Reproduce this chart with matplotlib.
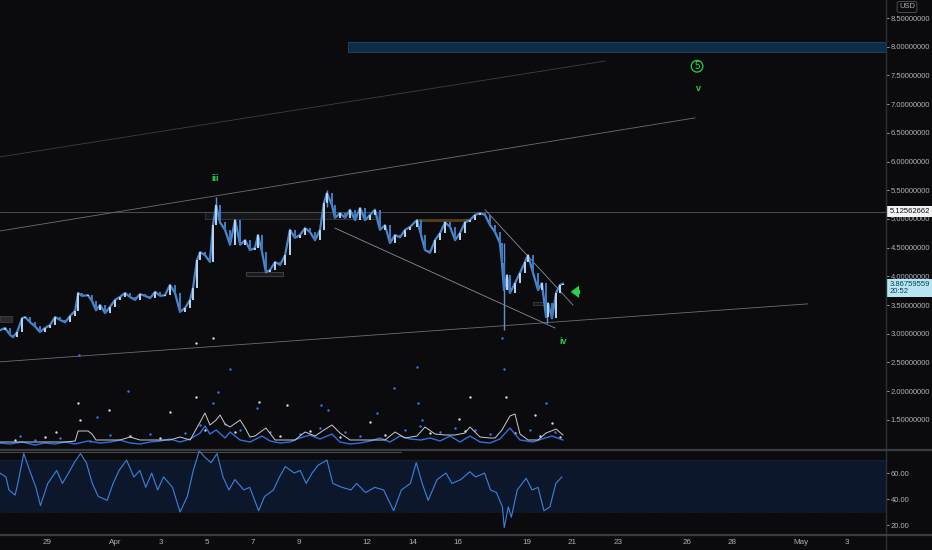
import numpy as np
import matplotlib
matplotlib.use("Agg")
import matplotlib.pyplot as plt
from matplotlib.patches import Rectangle

plt.rcParams['font.family'] = ['Liberation Sans', 'DejaVu Sans']

# time axis is in days counted from 29 Mar 00:00
price_days = [-2.06, -1.84, -1.62, -1.49, -1.31, -1.09, -0.96, -0.74, -0.53, -0.31, -0.09, 0.13, 0.35, 0.57,
              0.79, 1.01, 1.23, 1.36, 1.53, 1.79, 1.97, 2.14, 2.32, 2.54, 2.76, 2.98, 3.19, 3.41, 3.63, 3.85,
              4.07, 4.29, 4.51, 4.73, 4.95, 5.16, 5.38, 5.60, 5.82, 6.04, 6.26, 6.39, 6.56, 6.70, 6.91, 7.13,
              7.26, 7.40, 7.57, 7.79, 8.01, 8.23, 8.45, 8.67, 8.88, 9.10, 9.23, 9.41, 9.58, 9.76, 9.98, 10.20,
              10.42, 10.63, 10.85, 11.07, 11.29, 11.51, 11.73, 11.95, 12.12, 12.25, 12.47, 12.60, 12.82, 13.04,
              13.26, 13.48, 13.70, 13.92, 14.14, 14.35, 14.57, 14.79, 15.01, 15.23, 15.45, 15.67, 15.89, 16.19,
              16.37, 16.54, 16.76, 16.98, 17.20, 17.42, 17.64, 17.86, 18.07, 18.29, 18.51, 18.73, 18.95, 19.17,
              19.39, 19.61, 19.82, 19.91, 20.00, 20.13, 20.26, 20.48, 20.70, 20.92, 21.05, 21.27, 21.49, 21.66,
              21.84, 21.93, 22.10, 22.28, 22.45, 22.58]
price_close = [3.06, 3.10, 2.98, 2.94, 3.03, 3.27, 3.29, 3.20, 3.13, 3.03, 3.10, 3.15, 3.29, 3.24, 3.20, 3.31,
               3.40, 3.71, 3.66, 3.67, 3.57, 3.41, 3.50, 3.36, 3.47, 3.59, 3.64, 3.71, 3.64, 3.59, 3.69, 3.66,
               3.62, 3.73, 3.66, 3.67, 3.85, 3.71, 3.38, 3.45, 3.59, 3.80, 4.28, 4.42, 4.37, 4.25, 4.89, 5.24,
               4.94, 4.81, 4.55, 4.98, 4.55, 4.63, 4.46, 4.49, 4.72, 4.42, 4.07, 4.11, 4.25, 4.20, 4.37, 4.81,
               4.67, 4.72, 4.84, 4.77, 4.63, 4.81, 5.28, 5.45, 5.24, 5.02, 5.10, 5.02, 5.16, 4.98, 5.19, 4.98,
               5.07, 5.16, 4.81, 4.89, 4.58, 4.72, 4.68, 4.81, 4.86, 4.98, 4.72, 4.46, 4.41, 4.63, 4.75, 4.94,
               4.86, 4.63, 4.75, 4.94, 4.98, 5.07, 5.10, 5.07, 4.89, 4.77, 4.58, 4.23, 3.76, 4.02, 3.71, 3.88,
               4.06, 4.25, 4.37, 4.06, 3.76, 3.88, 3.29, 3.53, 3.27, 3.71, 3.85, 3.87]

# a few long wicks that stick out of the candle bodies
wick_days = [7.40, 12.25, 20.00, 21.90]
wick_low = [5.00, 5.20, 3.06, 3.19]
wick_high = [5.38, 5.50, 4.58, 3.53]

# volume-style overlay at the bottom of the price pane (arbitrary units)
ind_white_days = [-2.06, -1.62, -1.09, -0.53, -0.09, 0.35, 0.79, 1.23, 1.36, 1.79, 1.97, 2.14, 2.32, 2.76, 3.19,
                  3.63, 4.07, 4.51, 4.95, 5.38, 5.82, 6.26, 6.70, 6.91, 7.13, 7.40, 7.57, 7.79, 8.01, 8.45,
                  8.67, 8.88, 9.10, 9.58, 9.98, 10.42, 10.85, 11.29, 11.73, 12.12, 12.47, 12.82, 13.26, 13.92,
                  14.35, 14.79, 15.23, 15.67, 16.19, 16.54, 16.98, 17.42, 17.86, 18.29, 18.51, 18.95, 19.39,
                  19.61, 19.91, 20.26, 20.48, 20.70, 21.05, 21.49, 21.84, 22.28, 22.58]
ind_white = [6, 6, 6, 6, 6, 6, 6, 7, 17, 17, 14, 8, 8, 8, 8, 11, 8, 8, 8, 8, 11, 8, 26, 35, 23, 28, 33, 24, 21,
             28, 20, 11, 12, 20, 8, 8, 8, 16, 12, 18, 23, 15, 8, 8, 8, 8, 16, 10, 12, 21, 14, 13, 13, 15, 21,
             11, 10, 10, 18, 32, 34, 14, 8, 8, 15, 19, 13]
ind_blue_days = [-2.06, -1.62, -1.09, -0.53, -0.09, 0.35, 0.79, 1.23, 1.79, 2.32, 2.76, 3.19, 3.63, 4.07, 4.51,
                 4.95, 5.38, 5.82, 6.26, 6.70, 6.91, 7.13, 7.40, 7.79, 8.01, 8.45, 8.88, 9.41, 9.76, 10.20,
                 10.63, 11.07, 11.51, 11.95, 12.47, 12.82, 13.26, 13.70, 14.14, 14.57, 15.01, 15.45, 15.89,
                 16.37, 16.76, 17.20, 17.64, 18.07, 18.51, 18.95, 19.39, 19.82, 20.26, 20.70, 21.27, 21.66,
                 22.10, 22.58]
ind_blue = [5, 4, 6, 3, 5, 4, 6, 4, 7, 5, 6, 8, 5, 4, 6, 7, 9, 6, 9, 15, 22, 14, 18, 10, 16, 8, 6, 12, 7, 5, 6,
            10, 13, 9, 14, 6, 4, 5, 7, 10, 6, 12, 9, 8, 10, 7, 12, 6, 12, 6, 5, 9, 20, 8, 6, 9, 12, 8]
dots_blue_days = [3.54, 8.01, 16.19, 20.00, 15.19, 7.48, 16.24, 21.84, 11.99, 12.30, 14.44, 9.19, 7.26, 2.19,
                  16.41, 19.91, 1.40, -1.18, 0.57, 2.76, 4.51, 6.04, 8.45, 9.76, 11.07, 13.04, 13.70, 15.67,
                  17.20, 17.86, 18.73, 19.39, 21.14, 22.23, -0.53, 1.88, 6.70, 7.79, 11.95, 16.32]
dots_blue = [57, 79, 81, 79, 60, 56, 45, 45, 43, 38, 35, 40, 45, 31, 28, 110, 93, 12, 10, 13, 14, 15, 18, 16,
             14, 16, 12, 18, 16, 20, 18, 14, 18, 16, 8, 7, 23, 24, 20, 22]
dots_white_days = [18.51, 20.09, 1.36, 2.71, 6.52, 9.28, 10.50, 14.14, 18.03, 21.36, 22.10, 5.38, 1.44, 0.39,
                   6.52, 7.26, -1.40, -0.09, 3.63, 4.95, 6.91, 8.23, 10.20, 11.51, 12.82, 14.79, 16.76, 18.29,
                   20.48, 21.58, 22.45]
dots_white = [51, 51, 45, 38, 51, 46, 43, 26, 29, 33, 25, 36, 28, 16, 105, 110, 8, 11, 12, 10, 18, 16, 12, 17,
              11, 13, 15, 17, 15, 12, 11]

rsi_days = [-2.06, -1.80, -1.67, -1.40, -1.28, -1.02, -0.76, -0.49, -0.29, 0.03, 0.42, 0.67, 0.94, 1.19, 1.46,
            1.72, 1.98, 2.24, 2.63, 2.89, 3.15, 3.48, 3.80, 4.06, 4.32, 4.58, 4.84, 5.10, 5.49, 5.82, 6.14,
            6.40, 6.66, 6.92, 7.18, 7.44, 7.70, 7.96, 8.22, 8.61, 8.87, 9.26, 9.52, 9.91, 10.17, 10.43, 10.82,
            11.08, 11.34, 11.60, 11.86, 12.25, 12.51, 12.91, 13.30, 13.55, 13.94, 14.34, 14.73, 15.17, 15.51,
            15.90, 16.16, 16.42, 16.68, 17.07, 17.46, 17.72, 18.11, 18.50, 18.76, 19.15, 19.41, 19.67, 19.93,
            20.01, 20.19, 20.32, 20.58, 20.97, 21.23, 21.49, 21.75, 22.01, 22.27, 22.53]
rsi_vals = [60, 57, 47, 43, 52, 75, 62, 49, 35, 52, 62, 52, 60, 68, 75, 68, 52, 42, 39, 52, 62, 70, 57, 62, 49,
            60, 47, 57, 49, 30, 42, 62, 77, 72, 68, 75, 57, 47, 55, 47, 49, 31, 42, 47, 57, 65, 60, 62, 52, 60,
            66, 70, 52, 49, 47, 52, 45, 49, 47, 31, 47, 52, 68, 52, 39, 55, 60, 52, 55, 61, 57, 60, 47, 45, 34,
            18, 34, 26, 47, 56, 47, 49, 31, 34, 52, 57]

tick_days = [0, 3, 5, 7, 9, 11, 14, 16, 18, 21, 23, 25, 28, 30, 33, 35]
tick_labels = ['29', 'Apr', '3', '5', '7', '9', '12', '14', '16', '19', '21', '23', '26', '28', 'May', '3']

last_price = 3.86759559
level_price = 5.12562662

BG = '#0b0b0e'
AXC = '#aeb1b9'
SEP = '#2e3038'
GREEN = '#2bd14b'
W, H = 932.0, 550.0
XL = (-2.06, 36.72)
FS = 5.5

fig = plt.figure(figsize=(9.32, 5.5), dpi=100)
fig.patch.set_facecolor(BG)
axw = 886 / W
ax = fig.add_axes([0, 1 - 450 / H, axw, 450 / H])
ax_rsi = fig.add_axes([0, 15 / H, axw, 84 / H])
ax_ind = fig.add_axes([0, 1 - 448 / H, axw, 112 / H])

for a in (ax, ax_rsi, ax_ind):
    a.set_facecolor(BG)
    a.set_xlim(*XL)
    for s in a.spines.values():
        s.set_visible(False)
ax_ind.set_facecolor('none')
ax_ind.set_ylim(0, 112)
ax_ind.set_xticks([])
ax_ind.set_yticks([])

# ---- price pane
ax.set_ylim(0.974, 8.814)
ax.yaxis.tick_right()
yt = np.arange(1.5, 8.51, 0.5)
ax.set_yticks(yt)
ax.set_yticklabels([f'{v:.8f}' for v in yt])
ax.tick_params(axis='y', colors=AXC, labelsize=FS, length=2, width=0.6, pad=1.5)
ax.set_xticks([])

# target zone
ax.add_patch(Rectangle((13.17, 7.91), XL[1] - 13.17, 0.17, facecolor='#0f2c47', edgecolor='#1d4a70', lw=0.6))
# horizontal level
ax.axhline(level_price, color='#4a4c55', lw=0.7)

# trend lines
ax.plot([-2.06, 24.42], [6.08, 7.75], color='#3c3e45', lw=0.6)
ax.plot([-2.06, 28.36], [4.79, 6.76], color='#6b6e77', lw=0.6)
ax.plot([-2.06, 33.30], [2.51, 3.52], color='#6b6e77', lw=0.6)
ax.plot([12.60, 22.23], [4.84, 3.10], color='#8a8d95', lw=0.6)
ax.plot([19.17, 23.02], [5.16, 3.50], color='#8a8d95', lw=0.6)

# faint boxes
ax.add_patch(Rectangle((6.91, 5.00), 7.58, 0.12, facecolor='#1b1b1d', edgecolor='#45454a', lw=0.6, alpha=0.8))
ax.add_patch(Rectangle((8.71, 4.01), 1.62, 0.07, facecolor='#1b1b1d', edgecolor='#45454a', lw=0.6))
ax.add_patch(Rectangle((16.19, 4.96), 2.32, 0.03, facecolor='#4a3c16', edgecolor='#5e4c1c', lw=0.5))
ax.add_patch(Rectangle((21.27, 3.50), 0.52, 0.05, facecolor='#1b1b1d', edgecolor='#45454a', lw=0.5))
ax.add_patch(Rectangle((-2.06, 3.20), 0.52, 0.11, facecolor='#2a2a2e', edgecolor='#45454a', lw=0.5))

# candles
up_col, dn_col = '#b6d2ea', '#3c79c4'
ax.plot(price_days, price_close, color='#4f86c6', lw=1.6, zorder=3)
for i in range(1, len(price_close)):
    o, c = price_close[i - 1], price_close[i]
    col = up_col if c >= o else dn_col
    ax.bar(price_days[i], c - o, bottom=o, width=0.11, color=col, lw=0, zorder=4)
ax.vlines(wick_days, wick_low, wick_high, color='#5d93cc', lw=1.0, zorder=3)

# wave labels
ax.text(7.35, 5.71, 'iii', color=GREEN, fontsize=6.5, fontweight='bold', ha='center', va='center')
ax.text(22.58, 2.86, 'iv', color=GREEN, fontsize=6.5, fontweight='bold', ha='center', va='center')
ax.text(28.53, 7.28, 'v', color=GREEN, fontsize=6.5, fontweight='bold', ha='center', va='center')
ax.scatter([28.45], [7.66], s=70, facecolors='none', edgecolors=GREEN, linewidths=0.9)
ax.text(28.45, 7.66, '5', color=GREEN, fontsize=7, ha='center', va='center')
ax.annotate('', xy=(22.80, 3.73), xytext=(23.45, 3.73),
            arrowprops=dict(arrowstyle='simple,head_width=0.9,head_length=0.6,tail_width=0.3',
                            color=GREEN, lw=0))

# ---- overlay indicator
ax_ind.plot(ind_blue_days, ind_blue, color='#2f6fe0', lw=1.0)
ax_ind.plot(ind_white_days, ind_white, color='#c9cbd0', lw=0.7)
ax_ind.scatter(dots_blue_days, dots_blue, s=3, color='#3a78ee', lw=0)
ax_ind.scatter(dots_white_days, dots_white, s=3, color='#d8d8d8', lw=0)

# ---- RSI pane
ax_rsi.set_ylim(12.3, 77.0)
ax_rsi.axhspan(30, 70, color='#0c172b', lw=0)
ax_rsi.axhline(70, color='#27324a', lw=0.6, ls=(0, (1, 2)))
ax_rsi.axhline(30, color='#27324a', lw=0.6, ls=(0, (1, 2)))
ax_rsi.plot([-2.06, 15.49], [76, 76], color='#4a4c55', lw=0.7)
ax_rsi.plot(rsi_days, rsi_vals, color='#3c82dc', lw=0.8)
ax_rsi.yaxis.tick_right()
ax_rsi.set_yticks([20, 40, 60])
ax_rsi.set_yticklabels(['20.00', '40.00', '60.00'])
ax_rsi.tick_params(axis='y', colors=AXC, labelsize=FS, length=2, width=0.6, pad=1.5)
ax_rsi.set_xticks(tick_days)
ax_rsi.set_xticklabels(tick_labels)
ax_rsi.tick_params(axis='x', colors=AXC, labelsize=5.8, length=0, pad=3)

# ---- separators and axis boxes
fig.add_artist(plt.Line2D([axw, axw], [0, 1], color=SEP, lw=1.0))
fig.add_artist(plt.Line2D([0, 1], [1 - 450 / H, 1 - 450 / H], color='#3a3c43', lw=1.6))
fig.add_artist(plt.Line2D([0, 1], [15 / H, 15 / H], color='#3a3c43', lw=1.6))

fig.text(907 / W, 1 - 7 / H, 'USD', color=AXC, fontsize=5.5, ha='center', va='center',
         bbox=dict(boxstyle='round,pad=0.25', facecolor='none', edgecolor='#55575e', lw=0.6))
ax.text(1.004, level_price, f'{level_price:.8f}', transform=ax.get_yaxis_transform(), color='#101010',
        fontsize=FS, ha='left', va='center', clip_on=False,
        bbox=dict(boxstyle='square,pad=0.3', facecolor='#f2f2f2', edgecolor='none'))
ax.text(1.004, last_price - 0.07, f'{last_price:.8f}\n20:52', transform=ax.get_yaxis_transform(),
        color='#0d3d55', fontsize=FS, ha='left', va='center', clip_on=False, linespacing=1.05,
        bbox=dict(boxstyle='square,pad=0.3', facecolor='#b5e6f2', edgecolor='none'))

fig.savefig('out.png', dpi=100, facecolor=BG)
